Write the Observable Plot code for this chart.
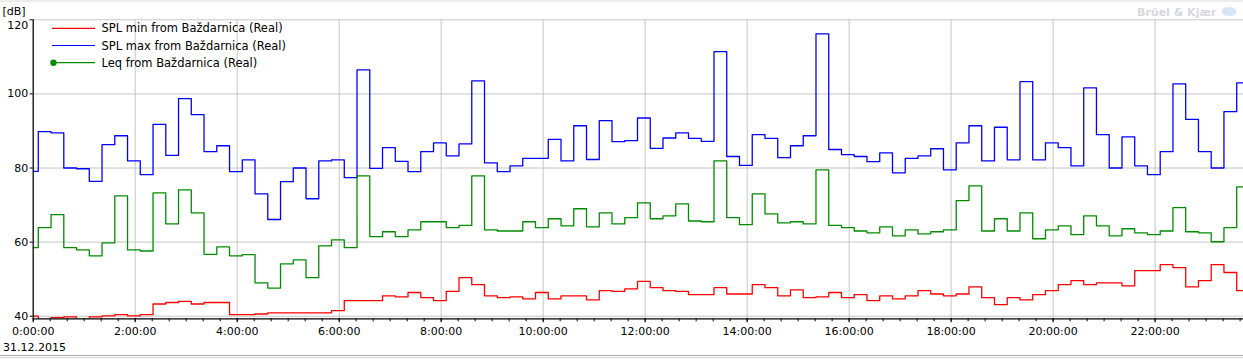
<!DOCTYPE html>
<html>
<head>
<meta charset="utf-8">
<script src="https://cdn.jsdelivr.net/npm/d3@7"></script>
<script src="https://cdn.jsdelivr.net/npm/@observablehq/plot@0.6"></script>
<style>
html, body { margin: 0; padding: 0; background: #fff; }
body { width: 1243px; height: 359px; position: relative; overflow: hidden; font-family: "DejaVu Sans", sans-serif; }
#chart { position: absolute; left: 0; top: 0; }
#overlay { position: absolute; left: 0; top: 0; pointer-events: none; }
</style>
</head>
<body>
<div id="chart"></div>
<script>
// ---------- data ----------
const dateLabel = "31.12.2015";
const yUnit = "[dB]";
const watermark = "Brüel & Kjær";
const seriesNames = ["SPL min from Baždarnica (Real)", "SPL max from Baždarnica (Real)", "Leq from Baždarnica (Real)"];
const seriesColors = ["#ff0000", "#0000ff", "#008c00"];
const domainEnd = "23:44";
const yTicks = [120, 100, 80, 60, 40];
const yMin = 39.3;

const timeLabels = [
  "00:00",
  "00:06","00:21","00:36","00:51", "01:06","01:21","01:36","01:51",
  "02:06","02:21","02:36","02:51", "03:06","03:21","03:36","03:51",
  "04:06","04:21","04:36","04:51", "05:06","05:21","05:36","05:51",
  "06:06","06:21","06:36","06:51", "07:06","07:21","07:36","07:51",
  "08:06","08:21","08:36","08:51", "09:06","09:21","09:36","09:51",
  "10:06","10:21","10:36","10:51", "11:06","11:21","11:36","11:51",
  "12:06","12:21","12:36","12:51", "13:06","13:21","13:36","13:51",
  "14:06","14:21","14:36","14:51", "15:06","15:21","15:36","15:51",
  "16:06","16:21","16:36","16:51", "17:06","17:21","17:36","17:51",
  "18:06","18:21","18:36","18:51", "19:06","19:21","19:36","19:51",
  "20:06","20:21","20:36","20:51", "21:06","21:21","21:36","21:51",
  "22:06","22:21","22:36","22:51", "23:06","23:21","23:36"
];

const splMin = [
  40.0,
  39.3, 39.6, 39.8, 39.3,  39.8, 40.1, 40.4, 40.1,
  40.4, 43.3, 43.7, 44.0,  43.3, 43.7, 43.7, 40.4,
  40.4, 40.6, 40.9, 40.9,  40.9, 40.9, 40.9, 41.5,
  44.2, 44.2, 44.2, 45.5,  45.2, 46.4, 45.0, 44.2,
  46.7, 50.4, 48.5, 45.5,  45.0, 45.2, 44.7, 46.4,
  44.7, 45.5, 45.5, 44.4,  46.9, 46.7, 47.4, 49.4,
  47.7, 46.9, 46.7, 45.8,  45.8, 47.7, 46.0, 46.0,
  48.5, 47.7, 45.5, 47.1,  45.0, 45.2, 46.4, 45.0,
  45.8, 44.2, 45.5, 44.7,  45.5, 46.9, 46.0, 45.5,
  46.0, 47.9, 45.0, 43.1,  45.0, 44.4, 45.8, 46.9,
  48.5, 49.6, 48.5, 49.0,  49.0, 48.2, 52.3, 52.3,
  53.9, 53.1, 47.9, 49.6,  53.9, 51.8, 46.9
];

const splMax = [
  79.1,
  89.8, 89.5, 80.0, 79.8,  76.4, 86.3, 88.7, 81.9,
  78.2, 91.8, 83.4, 98.7,  94.4, 84.4, 86.0, 79.0,
  82.2, 73.0, 66.1, 76.3,  80.0, 71.7, 81.9, 82.2,
  77.4, 106.5, 79.9, 85.5, 81.8, 79.0, 84.4, 86.8,
  83.3, 86.5, 103.5, 81.4, 79.0, 80.6, 82.6, 82.6,
  87.7, 81.9, 91.4, 82.3,  92.8, 87.1, 87.4, 93.5,
  85.3, 88.1, 89.5, 88.0,  87.2, 111.4, 83.1, 80.7,
  89.0, 88.0, 82.8, 86.0,  88.7, 116.2, 85.0, 83.6,
  83.1, 81.7, 84.1, 78.7,  82.6, 83.3, 85.2, 79.5,
  86.8, 91.4, 81.9, 91.0,  82.2, 103.3, 82.2, 86.8,
  85.5, 80.6, 101.6, 89.0, 80.0, 88.4, 80.6, 78.2,
  84.4, 102.7, 93.1, 84.4, 80.0, 95.2, 103.0
];

const leq = [
  58.5,
  63.9, 67.4, 58.5, 57.9,  56.3, 59.8, 72.5, 57.9,
  57.6, 73.3, 64.9, 74.1,  67.9, 56.7, 58.7, 56.3,
  56.6, 49.0, 47.6, 54.1,  55.2, 50.4, 59.0, 60.6,
  58.5, 77.9, 61.5, 62.8,  61.5, 63.3, 65.5, 65.5,
  63.9, 64.5, 77.9, 63.3,  63.0, 63.0, 65.5, 63.9,
  66.3, 64.4, 69.0, 64.1,  67.9, 64.9, 66.6, 70.6,
  66.3, 67.1, 70.3, 65.7,  65.5, 81.9, 66.6, 64.7,
  73.0, 67.6, 65.2, 65.5,  64.9, 79.5, 64.5, 63.9,
  63.0, 62.5, 64.1, 61.7,  63.3, 62.2, 62.8, 63.3,
  71.2, 75.2, 63.0, 66.3,  63.0, 67.9, 60.9, 63.3,
  64.4, 62.0, 67.1, 64.4,  61.7, 63.6, 62.5, 62.0,
  63.0, 69.3, 62.8, 62.5,  60.1, 63.9, 74.9
];

// ---------- build table ----------
const toMin = s => { const [h, m] = s.split(":").map(Number); return h * 60 + m; };
const xEnd = toMin(domainEnd);
function rows(vals, name) {
  const r = timeLabels.map((t, i) => ({t: toMin(t), v: vals[i], s: name}));
  r.push({t: xEnd, v: vals[vals.length - 1], s: name}); // close last step at frame edge
  return r;
}
const table = [
  rows(splMin, seriesNames[0]),
  rows(splMax, seriesNames[1]),
  rows(leq, seriesNames[2])
];

const majorTicks = d3.range(0, xEnd, 120);
const minorTicks = d3.range(0, xEnd, 20);
const fmtTime = d => `${Math.floor(d / 60)}:${String(d % 60).padStart(2, "0")}:00`;

const chart = Plot.plot({
  width: 1243,
  height: 359,
  marginTop: 19.3,
  marginBottom: 40.7,
  marginLeft: 32.7,
  marginRight: 0,
  style: {fontFamily: "'DejaVu Sans', sans-serif", fontSize: "11px", color: "#000", background: "transparent", overflow: "visible"},
  x: {type: "linear", domain: [0, xEnd], axis: null},
  y: {domain: [yMin, 120], axis: null},
  marks: [
    Plot.ruleX(majorTicks, {stroke: "#c6c6c6", strokeWidth: 1}),
    Plot.ruleY(yTicks, {stroke: "#c6c6c6", strokeWidth: 1}),
    ...table.map((d, i) => Plot.line(d, {x: "t", y: "v", stroke: seriesColors[i], strokeWidth: 1.3, curve: "step-after", clip: true})),
    Plot.ruleX([0], {stroke: "#000", strokeWidth: 1.2}),
    Plot.ruleY([yMin], {stroke: "#000", strokeWidth: 1.2}),
    Plot.axisX({anchor: "bottom", ticks: minorTicks, tickSize: 3, tickFormat: () => "", label: null}),
    Plot.axisX({anchor: "bottom", ticks: majorTicks, tickSize: 4, tickPadding: 4, tickFormat: fmtTime, label: null, fontSize: 11}),
    Plot.axisY({anchor: "left", ticks: yTicks, tickSize: 3, tickPadding: 2, tickFormat: d => d === 120 ? "" : String(d), label: null, fontSize: 11}),
    Plot.text([120], {y: d => d, frameAnchor: "left", text: d => String(d), textAnchor: "end", dx: -5, dy: 5.7, fontSize: 11})
  ]
});
document.getElementById("chart").appendChild(chart);

// ---------- overlay: legend, unit, date, watermark, borders ----------
const ov = d3.select("body").append("svg")
  .attr("id", "overlay").attr("width", 1243).attr("height", 359)
  .style("font-family", "'DejaVu Sans', sans-serif");

ov.append("rect").attr("x", 0).attr("y", 0).attr("width", 1243).attr("height", 2).attr("fill", "#ececec");
ov.append("line").attr("x1", 0).attr("x2", 1243).attr("y1", 355.5).attr("y2", 355.5).attr("stroke", "#a8a8a8");
ov.append("line").attr("x1", 0).attr("x2", 1243).attr("y1", 357.5).attr("y2", 357.5).attr("stroke", "#d4d4d4");

ov.append("text").attr("x", 2.5).attr("y", 14.5).attr("font-size", 11).attr("fill", "#000").text(yUnit);
ov.append("text").attr("x", 3).attr("y", 351).attr("font-size", 11).attr("fill", "#000").text(dateLabel);

ov.append("text").attr("x", 1137).attr("y", 15.5).attr("font-size", 11).attr("font-weight", "bold")
  .attr("fill", "#d4d8dd").text(watermark);
ov.append("ellipse").attr("cx", 1229).attr("cy", 11.5).attr("rx", 7.5).attr("ry", 4.5).attr("fill", "#d6e6f6");

const lg = ov.append("g");
seriesNames.forEach((name, i) => {
  const y = 28.3 + i * 17.2;
  lg.append("line").attr("x1", 52).attr("x2", 95).attr("y1", y).attr("y2", y)
    .attr("stroke", seriesColors[i]).attr("stroke-width", 1.2);
  if (i === 2) lg.append("circle").attr("cx", 53.5).attr("cy", y).attr("r", 3.2).attr("fill", seriesColors[i]);
  lg.append("text").attr("x", 101.5).attr("y", y).attr("dy", "0.36em").attr("font-size", 11.5)
    .attr("fill", "#000").text(name);
});
</script>
</body>
</html>
